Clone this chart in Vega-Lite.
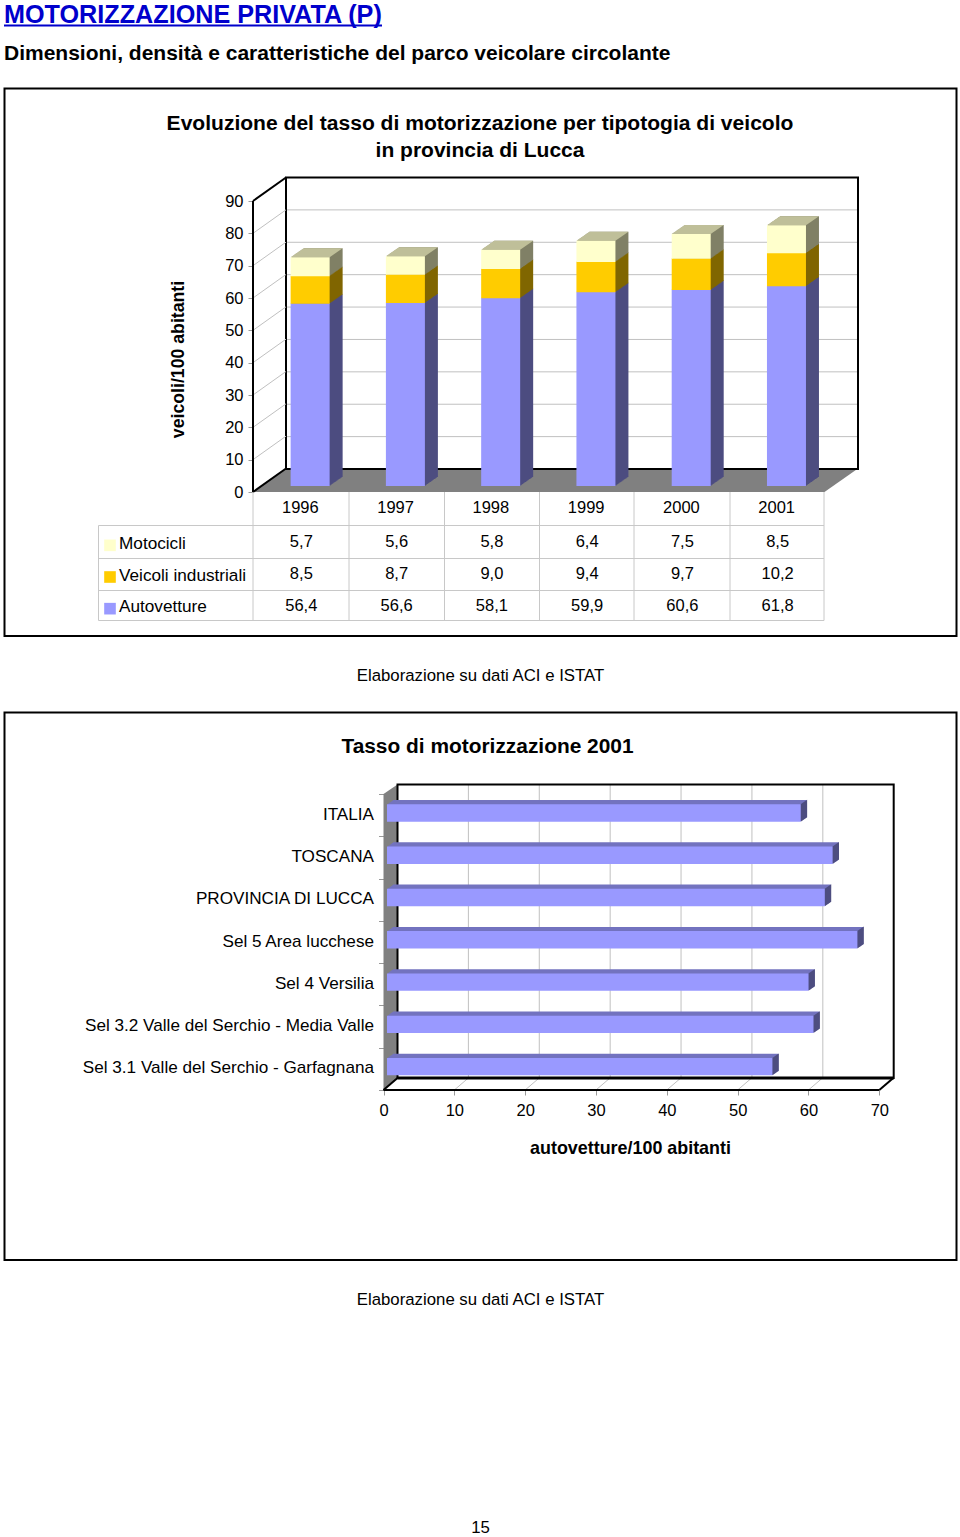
{
"$schema":"https://vega.github.io/schema/vega-lite/v6.json",
"width":960,"height":1537,"padding":0,"autosize":{"type":"none"},"background":"white",
"config":{"view":{"stroke":null},"font":"Liberation Sans","locale":{"number":{"decimal":",","thousands":".","grouping":[3],"currency":["","€"]}},
"axis":{"labelFont":"Liberation Sans","labelFontSize":16.5,"labelColor":"#000","labelFlush":false,"domain":false,"grid":false,"tickColor":"#999","tickSize":5,"titleFont":"Liberation Sans","titleColor":"#000"},
"text":{"font":"Liberation Sans","fontSize":16.8,"color":"#000"},
"point":{"filled":true,"opacity":1,"size":4,"strokeWidth":0}},
"datasets":{
"moto":[
{"year":"1996","serie":"Autovetture","value":56.4},{"year":"1996","serie":"Veicoli industriali","value":8.5},{"year":"1996","serie":"Motocicli","value":5.7},
{"year":"1997","serie":"Autovetture","value":56.6},{"year":"1997","serie":"Veicoli industriali","value":8.7},{"year":"1997","serie":"Motocicli","value":5.6},
{"year":"1998","serie":"Autovetture","value":58.1},{"year":"1998","serie":"Veicoli industriali","value":9.0},{"year":"1998","serie":"Motocicli","value":5.8},
{"year":"1999","serie":"Autovetture","value":59.9},{"year":"1999","serie":"Veicoli industriali","value":9.4},{"year":"1999","serie":"Motocicli","value":6.4},
{"year":"2000","serie":"Autovetture","value":60.6},{"year":"2000","serie":"Veicoli industriali","value":9.7},{"year":"2000","serie":"Motocicli","value":7.5},
{"year":"2001","serie":"Autovetture","value":61.8},{"year":"2001","serie":"Veicoli industriali","value":10.2},{"year":"2001","serie":"Motocicli","value":8.5}],
"aree":[{"area":"ITALIA","value":58.4},{"area":"TOSCANA","value":62.9},{"area":"PROVINCIA DI LUCCA","value":61.8},{"area":"Sel 5 Area lucchese","value":66.4},{"area":"Sel 4 Versilia","value":59.5},{"area":"Sel 3.2 Valle del Serchio - Media Valle","value":60.2},{"area":"Sel 3.1 Valle del Serchio - Garfagnana","value":54.4}],
"g1":[{"g":0},{"g":10},{"g":20},{"g":30},{"g":40},{"g":50},{"g":60},{"g":70},{"g":80},{"g":90}],
"g2":[{"g":0},{"g":10},{"g":20},{"g":30},{"g":40},{"g":50},{"g":60},{"g":70}],
"edgesX":[{"e":0},{"e":1},{"e":2},{"e":3},{"e":4},{"e":5},{"e":6}],
"edgesY":[{"e":0},{"e":1},{"e":2},{"e":3}],
"one":[{"k":1}]
},
"resolve":{"scale":{"x":"independent","y":"independent","color":"independent"},"axis":{"x":"independent","y":"independent"}},
"layer":[
{"data":{"name":"one"},"mark":{"type":"rect","fill":"transparent","stroke":"black","strokeWidth":2},"encoding":{"x":{"datum":4.5,"type":"quantitative","scale":{"domain":[0,960],"range":[0,960]},"axis":null},"x2":{"datum":956.5},"y":{"datum":88.5,"type":"quantitative","scale":{"domain":[0,1537],"range":[0,1537]},"axis":null},"y2":{"datum":636}}},
{"data":{"name":"one"},"mark":{"type":"rect","fill":"transparent","stroke":"black","strokeWidth":2},"encoding":{"x":{"datum":4.5,"type":"quantitative","scale":{"domain":[0,960],"range":[0,960]},"axis":null},"x2":{"datum":956.5},"y":{"datum":712.5,"type":"quantitative","scale":{"domain":[0,1537],"range":[0,1537]},"axis":null},"y2":{"datum":1260}}},

{"data":{"name":"one"},"mark":{"type":"point","shape":"M0,0 L33,-23.5 L605,-23.5 L571.5,0 Z","color":"#808080"},"encoding":{"x":{"datum":0,"type":"quantitative","scale":{"domain":[0,1],"range":[253,824]},"axis":null},"y":{"datum":0,"type":"quantitative","scale":{"domain":[0,90],"range":[492,201]},"axis":null}}},
{"data":{"name":"g1"},"transform":[{"filter":"datum.g>0 && datum.g<90"}],"mark":{"type":"rule","color":"#c0c0c0","strokeWidth":1},"encoding":{"x":{"datum":0,"type":"quantitative","scale":{"domain":[0,1],"range":[286,858]},"axis":null},"x2":{"datum":1},"y":{"field":"g","type":"quantitative","scale":{"domain":[0,90],"range":[469,177.5]},"axis":null}}},
{"data":{"name":"one"},"mark":{"type":"rect","fill":"transparent","stroke":"black","strokeWidth":2},"encoding":{"x":{"datum":0,"type":"quantitative","scale":{"domain":[0,1],"range":[286,858]},"axis":null},"x2":{"datum":1},"y":{"datum":0,"type":"quantitative","scale":{"domain":[0,90],"range":[469,177.5]},"axis":null},"y2":{"datum":90}}},
{"data":{"name":"g1"},"transform":[{"filter":"datum.g>0 && datum.g<90"}],"mark":{"type":"rule","color":"#c0c0c0","strokeWidth":1,"y2Offset":-23.5},"encoding":{"x":{"datum":0,"type":"quantitative","scale":{"domain":[0,1],"range":[253,286]},"axis":null},"x2":{"datum":1},"y":{"field":"g","type":"quantitative","scale":{"domain":[0,90],"range":[492,201]},"axis":null},"y2":{"field":"g"}}},
{"data":{"name":"g1"},"transform":[{"filter":"datum.g==0 || datum.g==90"}],"mark":{"type":"rule","color":"#000","strokeWidth":2,"y2Offset":-23.5},"encoding":{"x":{"datum":0,"type":"quantitative","scale":{"domain":[0,1],"range":[253,286]},"axis":null},"x2":{"datum":1},"y":{"field":"g","type":"quantitative","scale":{"domain":[0,90],"range":[492,201]},"axis":null},"y2":{"field":"g"}}},
{"data":{"name":"one"},"mark":{"type":"rule","color":"#000","strokeWidth":2},"encoding":{"x":{"datum":0,"type":"quantitative","scale":{"domain":[0,1],"range":[253,286]},"axis":null},"y":{"datum":0,"type":"quantitative","scale":{"domain":[0,90],"range":[492,201]},"axis":null},"y2":{"datum":90}}},

{"data":{"name":"moto"},"transform":[{"stack":"value","groupby":["year"],"as":["y0","y1"]}],
"encoding":{"x":{"field":"year","type":"nominal","scale":{"range":[252.7,824.3],"paddingInner":0,"paddingOuter":0},"axis":null},"y":{"field":"y1","type":"quantitative","scale":{"domain":[0,90],"range":[492,201]},"axis":null},"y2":{"field":"y0"},"color":{"field":"serie","type":"nominal","scale":{"domain":["Autovetture","Veicoli industriali","Motocicli"],"range":["#4d4d80","#806600","#808066"]},"legend":null}},
"layer":[
{"mark":{"type":"bar","width":39,"xOffset":22.8,"yOffset":-15.5,"y2Offset":-15}},
{"mark":{"type":"bar","width":39,"xOffset":21.8,"yOffset":-14.8,"y2Offset":-14.3}},
{"mark":{"type":"bar","width":39,"xOffset":20.8,"yOffset":-14.1,"y2Offset":-13.6}},
{"mark":{"type":"bar","width":39,"xOffset":19.8,"yOffset":-13.4,"y2Offset":-12.9}},
{"mark":{"type":"bar","width":39,"xOffset":18.8,"yOffset":-12.7,"y2Offset":-12.2}},
{"mark":{"type":"bar","width":39,"xOffset":17.8,"yOffset":-12,"y2Offset":-11.5}},
{"mark":{"type":"bar","width":39,"xOffset":16.8,"yOffset":-11.3,"y2Offset":-10.8}},
{"mark":{"type":"bar","width":39,"xOffset":15.8,"yOffset":-10.6,"y2Offset":-10.1}},
{"mark":{"type":"bar","width":39,"xOffset":14.8,"yOffset":-9.9,"y2Offset":-9.4}},
{"mark":{"type":"bar","width":39,"xOffset":13.8,"yOffset":-9.2,"y2Offset":-8.7}},
{"mark":{"type":"bar","width":39,"xOffset":12.8,"yOffset":-8.5,"y2Offset":-8}},
{"mark":{"type":"bar","width":39,"xOffset":11.8,"yOffset":-7.8,"y2Offset":-7.3}},
{"mark":{"type":"bar","width":39,"xOffset":10.8,"yOffset":-7.1,"y2Offset":-6.6}}
]},
{"data":{"name":"moto"},"transform":[{"stack":"value","groupby":["year"],"as":["y0","y1"]},{"filter":"datum.serie=='Motocicli'"}],
"mark":{"type":"point","shape":"M-19.5,0 L-6.5,-9 L32.5,-9 L19.5,0 Z","color":"#bfbf99","xOffset":9.8,"yOffset":-6.5},
"encoding":{"x":{"field":"year","type":"nominal","scale":{"range":[252.7,824.3],"paddingInner":0,"paddingOuter":0},"axis":null},"y":{"field":"y1","type":"quantitative","scale":{"domain":[0,90],"range":[492,201]},"axis":null}}},
{"data":{"name":"moto"},"transform":[{"stack":"value","groupby":["year"],"as":["y0","y1"]}],
"mark":{"type":"bar","width":39,"xOffset":9.8,"yOffset":-6.5,"y2Offset":-6},
"encoding":{"x":{"field":"year","type":"nominal","scale":{"range":[252.7,824.3],"paddingInner":0,"paddingOuter":0},"axis":{"orient":"bottom","offset":-1045,"title":null,"ticks":false,"labelAngle":0,"labelPadding":7}},
"y":{"field":"y1","type":"quantitative","scale":{"domain":[0,90],"range":[492,201]},"axis":{"orient":"left","offset":-253,"values":[0,10,20,30,40,50,60,70,80,90],"title":"veicoli/100 abitanti","titleFontSize":17.7,"titleFontWeight":"bold","titleX":-66,"titleY":359,"labelPadding":5,"format":"d"}},
"y2":{"field":"y0"},"color":{"field":"serie","type":"nominal","scale":{"domain":["Autovetture","Veicoli industriali","Motocicli"],"range":["#9999ff","#ffcc00","#ffffcc"]},"legend":null}}},

{"data":{"name":"edgesX"},"mark":{"type":"rule","color":"#c8c8c8","strokeWidth":1},"encoding":{"x":{"field":"e","type":"quantitative","scale":{"domain":[0,1,2,3,4,5,6],"range":[253,349,444.5,539.5,634,730,824]},"axis":null},"y":{"datum":0,"type":"quantitative","scale":{"domain":[0,1],"range":[492,620.5]},"axis":null},"y2":{"datum":1}}},
{"data":{"name":"edgesY"},"mark":{"type":"rule","color":"#c8c8c8","strokeWidth":1},"encoding":{"y":{"field":"e","type":"quantitative","scale":{"domain":[0,1,2,3],"range":[525.5,558.5,590.5,620.5]},"axis":null},"x":{"datum":0,"type":"quantitative","scale":{"domain":[0,1],"range":[98.5,824]},"axis":null},"x2":{"datum":1}}},
{"data":{"name":"one"},"mark":{"type":"rule","color":"#c8c8c8","strokeWidth":1},"encoding":{"x":{"datum":0,"type":"quantitative","scale":{"domain":[0,1],"range":[98.5,824]},"axis":null},"y":{"datum":0,"type":"quantitative","scale":{"domain":[0,1],"range":[525.5,620.5]},"axis":null},"y2":{"datum":1}}},
{"data":{"name":"moto"},"mark":{"type":"text","align":"center","baseline":"middle","fontSize":16.5,"dx":1,"dy":1},"encoding":{"text":{"field":"value","type":"quantitative","format":".1f"},"x":{"field":"year","type":"nominal","scale":{"range":[252.7,824.3],"paddingInner":0,"paddingOuter":0},"axis":null},"y":{"field":"serie","type":"nominal","scale":{"domain":["Motocicli","Veicoli industriali","Autovetture"],"range":[525.5,620.5],"paddingInner":0,"paddingOuter":0},"axis":null}}},
{"data":{"name":"moto"},"transform":[{"filter":"datum.year=='1996'"}],"mark":{"type":"text","align":"left","baseline":"middle","dy":2.5,"fontSize":17.2},"encoding":{"text":{"field":"serie"},"x":{"datum":119,"type":"quantitative","scale":{"domain":[0,960],"range":[0,960]},"axis":null},"y":{"field":"serie","type":"nominal","scale":{"domain":["Motocicli","Veicoli industriali","Autovetture"],"range":[525.5,620.5],"paddingInner":0,"paddingOuter":0},"axis":null}}},
{"data":{"name":"moto"},"transform":[{"filter":"datum.year=='1996'"}],"mark":{"type":"square","size":135,"opacity":1,"yOffset":4},"encoding":{"x":{"datum":110,"type":"quantitative","scale":{"domain":[0,960],"range":[0,960]},"axis":null},"y":{"field":"serie","type":"nominal","scale":{"domain":["Motocicli","Veicoli industriali","Autovetture"],"range":[525.5,620.5],"paddingInner":0,"paddingOuter":0},"axis":null},"color":{"field":"serie","type":"nominal","scale":{"domain":["Autovetture","Veicoli industriali","Motocicli"],"range":["#9999ff","#ffcc00","#ffffcc"]},"legend":null}}},

{"data":{"name":"one"},"mark":{"type":"point","shape":"M0,0 L14,-12 L14,-305.5 L0,-296 Z","color":"#808080"},"encoding":{"x":{"datum":0,"type":"quantitative","scale":{"domain":[0,70],"range":[383.5,879.3]},"axis":null},"y":{"datum":0,"type":"quantitative","scale":{"domain":[0,1],"range":[1090,1078]},"axis":null}}},
{"data":{"name":"g2"},"transform":[{"filter":"datum.g>0 && datum.g<70"}],"mark":{"type":"rule","color":"#c0c0c0","strokeWidth":1},"encoding":{"x":{"field":"g","type":"quantitative","scale":{"domain":[0,70],"range":[397.5,893.7]},"axis":null},"y":{"datum":0,"type":"quantitative","scale":{"domain":[0,1],"range":[1078,784.5]},"axis":null},"y2":{"datum":1}}},
{"data":{"name":"g2"},"mark":{"type":"rule","color":"#c0c0c0","strokeWidth":1,"x2Offset":14},"encoding":{"x":{"field":"g","type":"quantitative","scale":{"domain":[0,70],"range":[383.5,879.3]},"axis":null},"x2":{"field":"g"},"y":{"datum":0,"type":"quantitative","scale":{"domain":[0,1],"range":[1090,1078]},"axis":null},"y2":{"datum":1}}},
{"data":{"name":"g2"},"transform":[{"filter":"datum.g==0 || datum.g==70"}],"mark":{"type":"rule","color":"#000","strokeWidth":2,"x2Offset":14},"encoding":{"x":{"field":"g","type":"quantitative","scale":{"domain":[0,70],"range":[383.5,879.3]},"axis":null},"x2":{"field":"g"},"y":{"datum":0,"type":"quantitative","scale":{"domain":[0,1],"range":[1090,1078]},"axis":null},"y2":{"datum":1}}},
{"data":{"name":"one"},"mark":{"type":"rule","color":"#000","strokeWidth":2},"encoding":{"x":{"datum":0,"type":"quantitative","scale":{"domain":[0,70],"range":[383.5,879.3]},"axis":null},"x2":{"datum":70},"y":{"datum":0,"type":"quantitative","scale":{"domain":[0,1],"range":[1090,1078]},"axis":null}}},
{"data":{"name":"one"},"mark":{"type":"rect","fill":"transparent","stroke":"black","strokeWidth":2},"encoding":{"x":{"datum":0,"type":"quantitative","scale":{"domain":[0,70],"range":[397.5,893.7]},"axis":null},"x2":{"datum":70},"y":{"datum":0,"type":"quantitative","scale":{"domain":[0,1],"range":[1078,784.5]},"axis":null},"y2":{"datum":1}}},
{"data":{"name":"one"},"mark":{"type":"rule","color":"#000","strokeWidth":3},"encoding":{"x":{"datum":0,"type":"quantitative","scale":{"domain":[0,70],"range":[397.5,893.7]},"axis":null},"x2":{"datum":70},"y":{"datum":0,"type":"quantitative","scale":{"domain":[0,1],"range":[1078,784.5]},"axis":null}}},

{"data":{"name":"aree"},
"encoding":{"y":{"field":"area","type":"nominal","sort":null,"scale":{"range":[794,1090],"paddingInner":0,"paddingOuter":0},"axis":null},"x":{"field":"value","type":"quantitative","scale":{"domain":[0,70],"range":[383.5,879.3]},"axis":null},"x2":{"datum":0}},
"layer":[
{"mark":{"type":"bar","height":17.4,"color":"#7373bf","xOffset":9.5,"x2Offset":9.5,"yOffset":-6.4}},
{"mark":{"type":"bar","height":17.4,"color":"#7373bf","xOffset":8.5,"x2Offset":8.5,"yOffset":-5.7}},
{"mark":{"type":"bar","height":17.4,"color":"#7373bf","xOffset":7.5,"x2Offset":7.5,"yOffset":-5}},
{"mark":{"type":"bar","height":17.4,"color":"#7373bf","xOffset":6.5,"x2Offset":6.5,"yOffset":-4.3}},
{"mark":{"type":"bar","height":17.4,"color":"#7373bf","xOffset":5.5,"x2Offset":5.5,"yOffset":-3.6}},
{"mark":{"type":"bar","height":17.4,"color":"#7373bf","xOffset":4.5,"x2Offset":4.5,"yOffset":-2.9}}
]},
{"data":{"name":"aree"},"mark":{"type":"point","shape":"M0,-8.7 L6.5,-13.2 L6.5,4.2 L0,8.7 Z","color":"#4d4d80","xOffset":3.5,"yOffset":-2.2},
"encoding":{"y":{"field":"area","type":"nominal","sort":null,"scale":{"range":[794,1090],"paddingInner":0,"paddingOuter":0},"axis":null},"x":{"field":"value","type":"quantitative","scale":{"domain":[0,70],"range":[383.5,879.3]},"axis":null}}},
{"data":{"name":"aree"},"mark":{"type":"bar","height":17.4,"color":"#9999ff","xOffset":3.5,"x2Offset":3.5,"yOffset":-2.2},
"encoding":{"y":{"field":"area","type":"nominal","sort":null,"scale":{"range":[794,1090],"paddingInner":0,"paddingOuter":0},"axis":{"orient":"left","offset":-383.5,"title":null,"tickBand":"extent","labelLimit":400,"labelPadding":5,"labelFontSize":17.15,"labelOffset":-1}},
"x":{"field":"value","type":"quantitative","scale":{"domain":[0,70],"range":[383.5,879.3]},"axis":{"orient":"bottom","offset":-447,"values":[0,10,20,30,40,50,60,70],"format":"d","labelPadding":7,"title":"autovetture/100 abitanti","titleFontSize":17.9,"titleFontWeight":"bold","titleX":630,"titleY":58,"titleBaseline":"middle"}},"x2":{"datum":0}}},

{"data":{"values":[{"t":"MOTORIZZAZIONE PRIVATA (P)"}]},"mark":{"type":"text","align":"left","baseline":"middle","fontSize":25.2,"color":"#0000cc","fontWeight":"bold"},"encoding":{"text":{"field":"t"},"x":{"datum":4,"type":"quantitative","scale":{"domain":[0,960],"range":[0,960]},"axis":null},"y":{"datum":14.5,"type":"quantitative","scale":{"domain":[0,1537],"range":[0,1537]},"axis":null}}},
{"data":{"name":"one"},"mark":{"type":"rule","color":"#0000cc","strokeWidth":2},"encoding":{"x":{"datum":4,"type":"quantitative","scale":{"domain":[0,960],"range":[0,960]},"axis":null},"x2":{"datum":382},"y":{"datum":25.5,"type":"quantitative","scale":{"domain":[0,1537],"range":[0,1537]},"axis":null}}},
{"data":{"values":[{"t":"Dimensioni, densità e caratteristiche del parco veicolare circolante"}]},"mark":{"type":"text","align":"left","baseline":"middle","fontSize":21,"fontWeight":"bold"},"encoding":{"text":{"field":"t"},"x":{"datum":4,"type":"quantitative","scale":{"domain":[0,960],"range":[0,960]},"axis":null},"y":{"datum":54,"type":"quantitative","scale":{"domain":[0,1537],"range":[0,1537]},"axis":null}}},
{"data":{"values":[{"t":"Evoluzione del tasso di motorizzazione per tipotogia di veicolo"}]},"mark":{"type":"text","align":"center","baseline":"middle","fontSize":21.05,"fontWeight":"bold"},"encoding":{"text":{"field":"t"},"x":{"datum":480,"type":"quantitative","scale":{"domain":[0,960],"range":[0,960]},"axis":null},"y":{"datum":124,"type":"quantitative","scale":{"domain":[0,1537],"range":[0,1537]},"axis":null}}},
{"data":{"values":[{"t":"in provincia di Lucca"}]},"mark":{"type":"text","align":"center","baseline":"middle","fontSize":21,"fontWeight":"bold"},"encoding":{"text":{"field":"t"},"x":{"datum":480,"type":"quantitative","scale":{"domain":[0,960],"range":[0,960]},"axis":null},"y":{"datum":151,"type":"quantitative","scale":{"domain":[0,1537],"range":[0,1537]},"axis":null}}},
{"data":{"values":[{"t":"Tasso di motorizzazione 2001"}]},"mark":{"type":"text","align":"center","baseline":"middle","fontSize":20.9,"fontWeight":"bold"},"encoding":{"text":{"field":"t"},"x":{"datum":487.5,"type":"quantitative","scale":{"domain":[0,960],"range":[0,960]},"axis":null},"y":{"datum":747,"type":"quantitative","scale":{"domain":[0,1537],"range":[0,1537]},"axis":null}}},
{"data":{"values":[{"t":"Elaborazione su dati ACI e ISTAT"}]},"mark":{"type":"text","align":"center","baseline":"middle"},"encoding":{"text":{"field":"t"},"x":{"datum":480.5,"type":"quantitative","scale":{"domain":[0,960],"range":[0,960]},"axis":null},"y":{"datum":676,"type":"quantitative","scale":{"domain":[0,1537],"range":[0,1537]},"axis":null}}},
{"data":{"values":[{"t":"Elaborazione su dati ACI e ISTAT"}]},"mark":{"type":"text","align":"center","baseline":"middle"},"encoding":{"text":{"field":"t"},"x":{"datum":480.5,"type":"quantitative","scale":{"domain":[0,960],"range":[0,960]},"axis":null},"y":{"datum":1300,"type":"quantitative","scale":{"domain":[0,1537],"range":[0,1537]},"axis":null}}},
{"data":{"values":[{"t":"15"}]},"mark":{"type":"text","align":"center","baseline":"middle"},"encoding":{"text":{"field":"t"},"x":{"datum":480.5,"type":"quantitative","scale":{"domain":[0,960],"range":[0,960]},"axis":null},"y":{"datum":1528,"type":"quantitative","scale":{"domain":[0,1537],"range":[0,1537]},"axis":null}}}
]}
